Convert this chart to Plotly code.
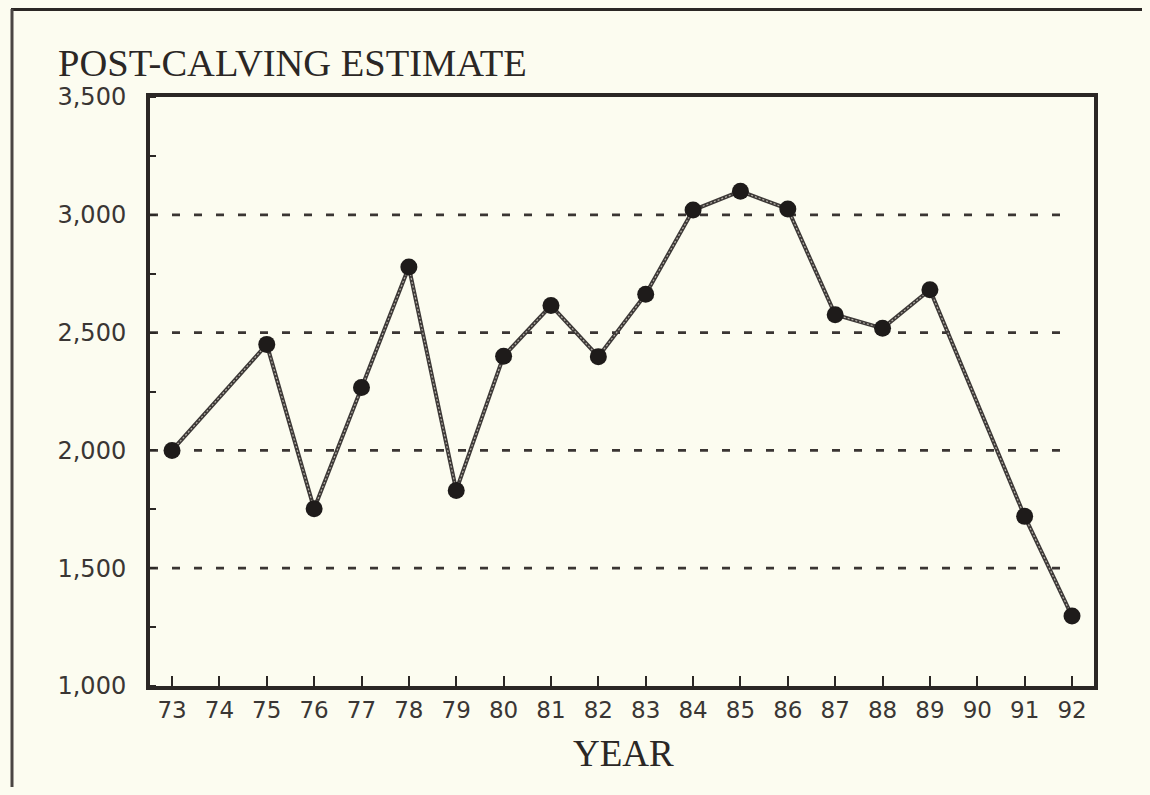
import plotly.graph_objects as go

# Data
years = [73, 75, 76, 77, 78, 79, 80, 81, 82, 83, 84, 85, 86, 87, 88, 89, 91, 92]
estimates = [2000, 2450, 1752, 2267, 2778, 1830, 2400, 2615, 2398, 2663, 3020, 3100, 3025, 2576, 2518, 2682, 1720, 1297]
year_ticks = list(range(73, 93))
year_labels = [str(y) for y in year_ticks]
y_ticks = [1000, 1500, 2000, 2500, 3000, 3500]
y_labels = ["1,000", "1,500", "2,000", "2,500", "3,000", "3,500"]
grid_values = [1500, 2000, 2500, 3000]

BG = "#fcfcf0"
INK = "#2b2725"

# page offset of 8px (body margin) -> figure sized to fit the 1150x795 window
W, H = 1134, 779
PX0, PY0 = 8, 8          # figure origin in page pixels
PL, PR, PT, PB = 150, 1094, 97, 686   # plot area in page pixels
PW, PH = PR - PL, PB - PT

def px(xp):
    return (xp - PL) / PW

def py(yp):
    return (PB - yp) / PH

fig = go.Figure()

fig.add_trace(go.Scatter(x=years, y=estimates, mode="lines",
                         line=dict(color="#3d3937", width=4), hoverinfo="skip", showlegend=False))
fig.add_trace(go.Scatter(x=years, y=estimates, mode="lines",
                         line=dict(color="#b5b0a8", width=1.2, dash="2px,2px"), hoverinfo="skip", showlegend=False))
fig.add_trace(go.Scatter(x=years, y=estimates, mode="markers",
                         marker=dict(size=17, color="#1e1b1a"), showlegend=False))

shapes = []
for g in grid_values:
    shapes.append(dict(type="line", xref="x", yref="y", x0=72.535, x1=92.0, y0=g, y1=g,
                       line=dict(color="#3a3533", width=2.8, dash="8px,14px"), layer="below"))
# outer document frame (top and left edges)
shapes.append(dict(type="line", xref="paper", yref="paper", x0=px(11), x1=px(1145), y0=py(9), y1=py(9),
                   line=dict(color=INK, width=4)))
shapes.append(dict(type="line", xref="paper", yref="paper", x0=px(12), x1=px(12), y0=py(9), y1=py(790),
                   line=dict(color="#4a4543", width=3)))

fig.update_layout(
    width=W, height=H,
    paper_bgcolor=BG, plot_bgcolor=BG,
    margin=dict(l=PL - PX0, r=W - (PR - PX0), t=PT - PY0, b=H - (PB - PY0)),
    shapes=shapes,
    annotations=[
        dict(text="POST-CALVING ESTIMATE", xref="paper", yref="paper",
             x=px(56), y=py(63), xanchor="left", yanchor="middle",
             showarrow=False, font=dict(family="Liberation Serif", size=38.5, color=INK)),
        dict(text="YEAR", xref="paper", yref="paper",
             x=px(623), y=py(753), xanchor="center", yanchor="middle",
             showarrow=False, font=dict(family="Liberation Serif", size=37, color=INK)),
    ],
)

fig.update_xaxes(range=[72.535, 92.464], tickmode="array", tickvals=year_ticks, ticktext=year_labels,
                 ticks="inside", ticklen=10, tickwidth=2, tickcolor=INK,
                 showline=True, linewidth=4, linecolor=INK, mirror=True,
                 showgrid=False, zeroline=False, ticklabelstandoff=0,
                 tickfont=dict(family="DejaVu Sans", size=23, color="#3a3634"))
fig.update_yaxes(range=[1000, 3500], tickmode="array", tickvals=y_ticks, ticktext=y_labels,
                 ticks="", showline=True, linewidth=4, linecolor=INK, mirror=True,
                 minor=dict(ticks="inside", ticklen=6, tickwidth=2, tickcolor=INK, dtick=250, tick0=1000, showgrid=False),
                 showgrid=False, zeroline=False, ticklabelstandoff=15,
                 tickfont=dict(family="DejaVu Sans", size=24, color="#3a3634"))

fig.write_html("out.html", post_script="document.body.style.background='%s';" % BG)
